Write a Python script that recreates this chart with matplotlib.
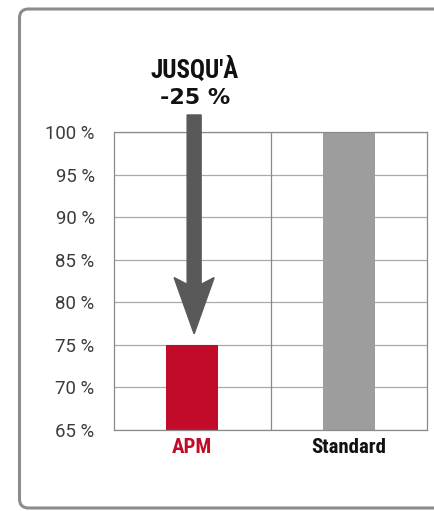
import matplotlib
matplotlib.use('Agg')
import matplotlib.pyplot as plt
from matplotlib import font_manager
from matplotlib.patches import FancyBboxPatch

# données du graphique
categories = ['APM', 'Standard']
values = [75, 100]
bar_colors = ['#c20b2a', '#9d9d9d']
label_colors = ['#c20b2a', '#111111']
y_ticks = [65, 70, 75, 80, 85, 90, 95, 100]
tick_labels = [f'{t} %' for t in y_ticks]
arrow_top = 102.0
arrow_tip = 76.3
headline = ["JUSQU'À", "-25 %"]

# polices : condensée grasse pour les titres, fine pour les graduations
fonts = font_manager.fontManager.ttflist
names = {f.name for f in fonts}
cond, stretch = 'DejaVu Sans', 'normal'
for n in ['Roboto Condensed', 'Liberation Sans Narrow', 'Open Sans Condensed', 'Noto Sans Condensed']:
    if n in names:
        cond = n
        break
else:
    for f in fonts:
        if 'condensed' in str(f.stretch) and f.weight in ('bold', 700):
            cond, stretch = f.name, 'condensed'
            break
light = 'Roboto' if 'Roboto' in names else 'DejaVu Sans'

fig = plt.figure(figsize=(4.35, 5.11), dpi=100)
ax = fig.add_axes([114 / 435, 81 / 511, 313 / 435, 298 / 511])

x = list(range(len(categories)))
ax.bar(x, values, width=0.33, color=bar_colors, zorder=2)

ax.set_xlim(-0.5, 1.5)
ax.set_ylim(65, 100)

for t in y_ticks:
    ax.axhline(t, color='#aaaaaa', lw=0.9, zorder=1)
ax.axvline(0.5, color='#8a8a8a', lw=0.9, zorder=1)
for s in ax.spines.values():
    s.set_color('#8a8a8a')
    s.set_linewidth(0.9)

ax.set_yticks(y_ticks, tick_labels)
ax.tick_params(axis='y', length=0, pad=14)
for lab in ax.get_yticklabels():
    lab.set_fontfamily(light)
    lab.set_fontweight('normal')
    lab.set_fontsize(13.4)
    lab.set_color('#3c3c3c')

ax.set_xticks(x, categories)
ax.tick_params(axis='x', length=0, pad=6)
for lab, c in zip(ax.get_xticklabels(), label_colors):
    lab.set_fontfamily(cond)
    lab.set_fontstretch(stretch)
    lab.set_fontweight('bold')
    lab.set_fontsize(15)
    lab.set_color(c)

# flèche de réduction
ax.arrow(0.012, arrow_top, 0, arrow_tip - arrow_top, width=0.0895, head_width=0.256,
         head_length=6.6, length_includes_head=True, overhang=0.12,
         color='#595959', zorder=3, clip_on=False)

ax.text(0.017, 106.35, headline[0], ha='center', va='baseline', family=cond,
        stretch=stretch, weight='bold', fontsize=18, color='#111111')
ax.text(0.017, 103.3, headline[1], ha='center', va='baseline', family='DejaVu Sans',
        weight='bold', fontsize=16, color='#111111')

# cadre arrondi
frame = FancyBboxPatch((0.195, 0.03), 4.5, 4.99, boxstyle='round,pad=0,rounding_size=0.09',
                       transform=fig.dpi_scale_trans, fill=False,
                       edgecolor='#8c8c8c', lw=2.2)
fig.add_artist(frame)

fig.savefig('out.png', dpi=100)
